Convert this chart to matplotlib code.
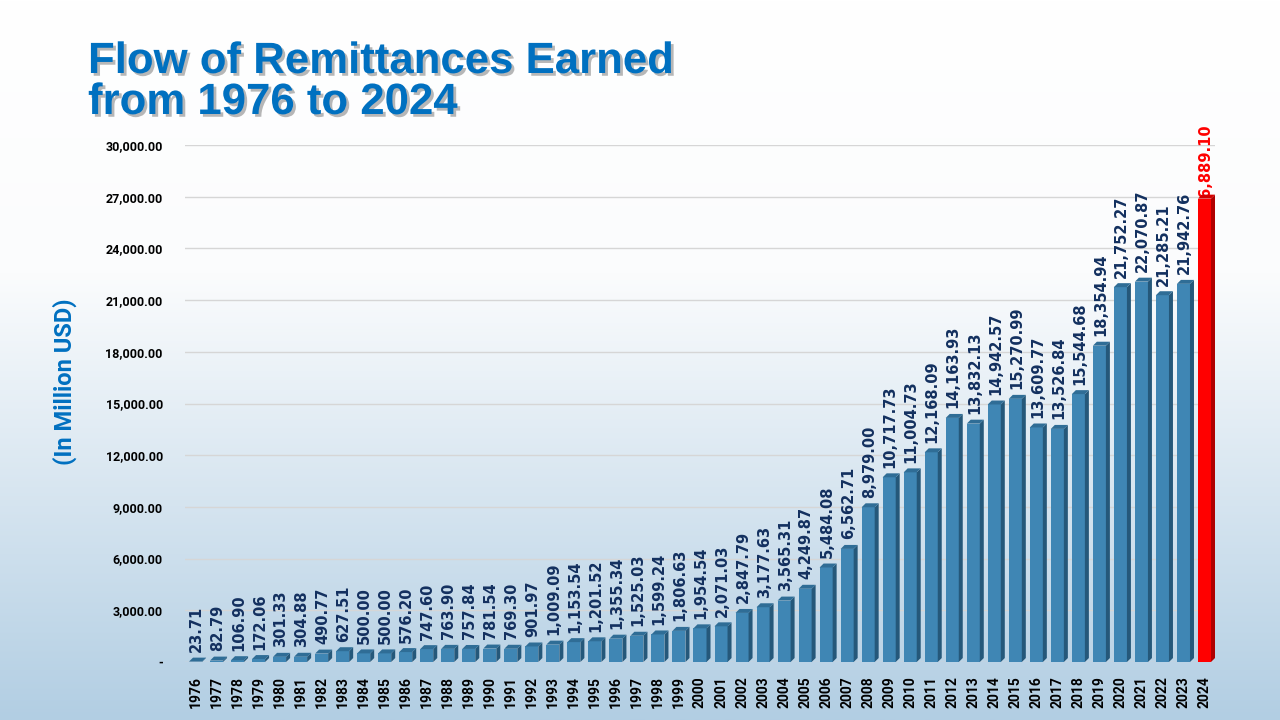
import numpy as np
import matplotlib.pyplot as plt
import matplotlib.patheffects as pe
from matplotlib.colors import LinearSegmentedColormap

years = list(range(1976, 2025))
remit = [23.71, 82.79, 106.90, 172.06, 301.33, 304.88, 490.77, 627.51, 500.00, 500.00,
         576.20, 747.60, 763.90, 757.84, 781.54, 769.30, 901.97, 1009.09, 1153.54, 1201.52,
         1355.34, 1525.03, 1599.24, 1806.63, 1954.54, 2071.03, 2847.79, 3177.63, 3565.31, 4249.87,
         5484.08, 6562.71, 8979.00, 10717.73, 11004.73, 12168.09, 14163.93, 13832.13, 14942.57, 15270.99,
         13609.77, 13526.84, 15544.68, 18354.94, 21752.27, 22070.87, 21285.21, 21942.76, 26889.10]
yticks = list(range(0, 30001, 3000))

title = "Flow of Remittances Earned\nfrom 1976 to 2024"
ylab = "(In Million USD)"

blue = '#3f86b4'
blue_side = '#25587a'
blue_top = '#2f6d96'
red = '#ff0000'
red_side = '#b00000'
red_top = '#d40000'
lab_col = '#13305f'

fig = plt.figure(figsize=(12.8, 7.2), dpi=100)

# background gradient
bg = fig.add_axes([0, 0, 1, 1], zorder=-10)
cmap = LinearSegmentedColormap.from_list('bg', [(0, '#ffffff'), (0.38, '#fbfcfd'), (1, '#b2cee3')])
grad = np.linspace(0, 1, 256).reshape(-1, 1)
bg.imshow(grad, aspect='auto', cmap=cmap, extent=[0, 1, 0, 1], origin='upper')
bg.axis('off')

ax = fig.add_axes([185/1280, 58/720, 1030/1280, 517/720])
ax.patch.set_alpha(0)
x = np.arange(len(years))
w = 0.62
dx = 0.19
dy = 230

cols = [blue] * (len(years) - 1) + [red]
sides = [blue_side] * (len(years) - 1) + [red_side]
tops = [blue_top] * (len(years) - 1) + [red_top]

ax.bar(x, remit, width=w, color=cols, zorder=3)
for xi, v, sc, tc in zip(x, remit, sides, tops):
    r = xi + w/2
    l = xi - w/2
    ax.fill([r, r + dx, r + dx, r], [0, dy, v + dy, v], color=sc, zorder=3, lw=0)
    ax.fill([l, l + dx, r + dx, r], [v, v + dy, v + dy, v], color=tc, zorder=3, lw=0)

for xi, v in zip(x[:-1], remit[:-1]):
    ax.annotate(f"{v:,.2f}", (xi + 0.05, v + dy), xytext=(0, 4), textcoords='offset points',
                rotation=90, ha='center', va='bottom', fontsize=10.5, fontweight='bold',
                color=lab_col, fontfamily='DejaVu Sans', zorder=4)
ax.annotate(f"{remit[-1]:,.2f}", (x[-1] + 0.05, remit[-1] + dy), xytext=(0, -8),
            textcoords='offset points', rotation=90, ha='center', va='bottom', fontsize=10.5,
            fontweight='bold', color=red, fontfamily='DejaVu Sans', zorder=2, annotation_clip=False)

ax.set_xlim(-0.5, len(years) - 0.5)
ax.set_ylim(0, 30000)
ax.set_yticks(yticks)
ax.set_yticklabels(['-'] + [f"{t:,.2f}" for t in yticks[1:]], fontsize=9, fontweight='bold',
                   fontfamily='Roboto')
ax.set_xticks(x)
ax.set_xticklabels([str(y) for y in years], rotation=90, fontsize=10, fontweight='bold',
                   fontfamily='Roboto')
ax.tick_params(axis='both', length=0)
ax.tick_params(axis='y', pad=16)
ax.tick_params(axis='x', pad=10)
ax.grid(axis='y', color='#d6d6d6', lw=1, zorder=0)
for s in ax.spines.values():
    s.set_visible(False)

fig.text(65/1280, 1 - 382/720, ylab, rotation=90, ha='center', va='center', fontsize=17,
         fontweight='bold', color='#0070c0', fontfamily='Roboto')

fig.text(88/1280, 1 - 41/720, title, ha='left', va='top', fontsize=31.5, fontweight='bold',
         color='#0070c0', fontfamily='Liberation Sans', linespacing=1.0,
         path_effects=[pe.SimplePatchShadow(offset=(2, -2), shadow_rgbFace='#888888', alpha=0.6),
                       pe.Normal()])

fig.savefig('out.png', dpi=100)
